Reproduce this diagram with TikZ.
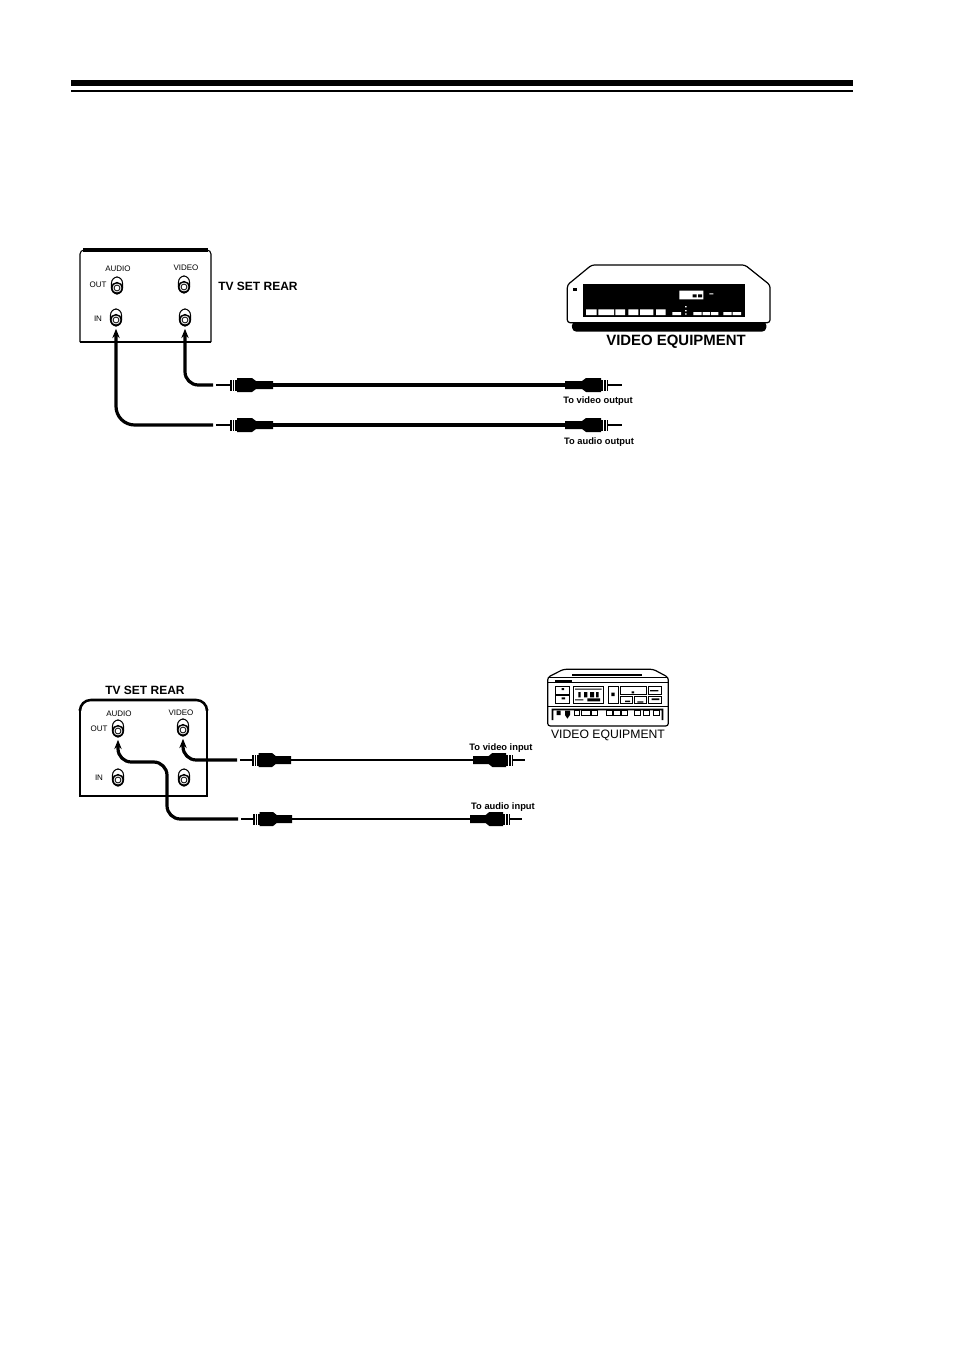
\documentclass[tikz,border=0pt]{standalone}
\usepackage{fontspec}
\setmainfont{Liberation Sans}
\usetikzlibrary{arrows.meta}
\tikzset{
  plug/.pic={
    \fill (0,-4) -- (17,-4) -- (21,-7) -- (36,-7) -- (36,7) -- (21,7) -- (17,4) -- (0,4) -- cycle;
    \fill (36,-5.5) rectangle (43,5.5);
    \draw[white, line width=.3pt] (38.5,-5.5) -- (38.5,5.5) (41,-5.5) -- (41,5.5);
    \draw[line width=1.5pt] (43,0) -- (57,0);
    \coordinate (-end) at (0,0);
    \coordinate (-tail) at (60,0);
  },
}
\newcommand{\jackat}[2]{
  \draw[line width=.8pt, fill=white, rounded corners=4.5pt] ($(#2)+(-5.5,-11)$) rectangle ($(#2)+(5.5,6)$);
  \node[circle, draw, fill=white, line width=1.1pt, minimum size=8pt, inner sep=0pt] (#1) at (#2) {};
  \draw[line width=.6pt] (#2) circle (2.2pt);
}
\usetikzlibrary{calc}
\begin{document}
\begin{tikzpicture}[x=.75pt, y=-.75pt]
        \tikzstyle{panelside} = [line width=.8pt]
        \tikzstyle{paneltop} = [line width=2.3pt]
        \tikzstyle{cable} = [line width=2.6pt]
        \tikzstyle{thincable} = [line width=1.6pt]
        \tikzstyle{wire} = [line width=2.4pt, rounded corners=10pt, -{Stealth[length=7pt,width=5.5pt]}, shorten >=2pt]
        \tikzstyle{tiny} = [font=\fontsize{6}{7}\selectfont, inner sep=0pt]
        \tikzstyle{small} = [font=\bfseries\fontsize{7}{8}\selectfont, inner sep=0pt]
        \tikzstyle{title} = [font=\bfseries\fontsize{9}{10}\selectfont, inner sep=0pt]
        \useasboundingbox (0,0) rectangle (954,1349);

        % rule
        \fill (71,80) rectangle (853,85.5);
        \fill (71,89.5) rectangle (853,91.5);

        % upper panel
        \draw[panelside, rounded corners=3pt] (80,342) -- (80,250) -- (211,250) -- (211,342);
        \draw[panelside] (80,342) -- (211,342);
        \draw[paneltop] (83,250) -- (208,250);
        \node[tiny] (audioa) at (118,269) {AUDIO};
        \node[tiny] (videoa) at (186,268) {VIDEO};
        \node[tiny] (outa) at (98,285) {OUT};
        \node[tiny] (ina) at (98,319) {IN};
        \node[title, anchor=west] (reara) at (218,286) {TV SET REAR};
        \jackat{audiooutA}{117,288}
        \jackat{videooutA}{184,287}
        \jackat{audioinA}{116,320}
        \jackat{videoinA}{185,320}

        % upper plugs
        \pic[xscale=-1] (plugva) at (273,385) {plug};
        \pic[xscale=-1] (plugaa) at (273,425) {plug};
        \pic (plugvb) at (565,385) {plug};
        \pic (plugab) at (565,425) {plug};
        \path[cable]
                (plugva-end) edge (plugvb-end)
                (plugaa-end) edge (plugab-end);
        \draw[wire] (plugva-tail) -| (videoinA.south);
        \draw[wire, rounded corners=14pt] (plugaa-tail) -| (audioinA.south);
        \node[small] (tovo) at (598,401) {To video output};
        \node[small] (toao) at (599,442) {To audio output};

        % upper equipment
        \begin{scope}[shift={(540,250)}, scale=1/3]
        \fill[rounded corners=3pt] (95,215) -- (680,215) -- (678,245) -- (97,245) -- cycle;
        \draw[line width=.9pt, fill=white, rounded corners=2pt] (155,45) -- (615,45) -- (690,105) -- (690,218) -- (82,218) -- (82,105) -- cycle;
        \fill (130,103) rectangle (615,200);
        \fill[white] (418,122) rectangle (490,148)
                (508,130) rectangle (520,133)
                (138,178) rectangle (170,195)
                (175,178) rectangle (222,195)
                (226,178) rectangle (255,195)
                (265,178) rectangle (295,195)
                (300,178) rectangle (340,195)
                (348,178) rectangle (377,195)
                (397,186) rectangle (423,195)
                (460,186) rectangle (485,195)
                (488,186) rectangle (510,195)
                (513,186) rectangle (535,195)
                (550,186) rectangle (575,195)
                (578,186) rectangle (603,195)
                (435,168) rectangle (440,172)
                (435,180) rectangle (440,184)
                (435,190) rectangle (440,194);
        \fill (458,133) rectangle (470,142) (474,133) rectangle (486,142);
        \fill (100,113) rectangle (112,123);
        \end{scope}
        \node[font=\bfseries\fontsize{11.2}{13}\selectfont, inner sep=0pt] (equipa) at (676,342) {VIDEO EQUIPMENT};

        % lower panel
        \draw[panelside] (80,708) -- (80,796) -- (207,796) -- (207,708);
        \draw[paneltop, line width=1.9pt, rounded corners=8pt] (80,709) -- (80,700) -- (207,700) -- (207,709);
        \node[title] (rearb) at (145,690) {TV SET REAR};
        \node[tiny] (audiob) at (119,714) {AUDIO};
        \node[tiny] (videob) at (181,713) {VIDEO};
        \node[tiny] (outb) at (99,729) {OUT};
        \node[tiny] (inb) at (99,778) {IN};
        \jackat{audiooutB}{118,731}
        \jackat{videooutB}{183,730}
        \jackat{audioinB}{118,780}
        \jackat{videoinB}{184,780}

        % lower plugs
        \pic[xscale=-.9] (plugvc) at (291,760) {plug};
        \pic[xscale=-.9] (plugac) at (292,819) {plug};
        \pic[xscale=.92] (plugvd) at (473,760) {plug};
        \pic[xscale=.92] (plugad) at (470,819) {plug};
        \path[thincable]
                (plugvc-end) edge (plugvd-end)
                (plugac-end) edge (plugad-end);
        \coordinate (bendb) at (167,762);
        \draw[wire] (plugvc-tail) -| (videooutB.south);
        \draw[wire] (plugac-tail) -| (bendb) -| (audiooutB.south);
        \node[small] (tovi) at (501,748) {To video input};
        \node[small] (toai) at (503,807) {To audio input};

        % lower equipment
        \begin{scope}[shift={(450,660)}, scale=1/3]
        \draw[line width=.9pt, rounded corners=2pt] (340,28) -- (610,28) -- (655,52) -- (655,198) -- (293,198) -- (293,52) -- cycle;
        \draw[line width=.9pt] (293,68) -- (655,68) (293,52) -- (655,52) (293,140) -- (655,140);
        \fill (365,42) rectangle (575,48);
        \fill (315,60) rectangle (365,65);
        \draw[line width=.6pt] (317,80) rectangle (358,102)
                (317,107) rectangle (358,130)
                (370,80) rectangle (460,130)
                (475,80) rectangle (505,130)
                (512,80) rectangle (590,102)
                (512,108) rectangle (548,130)
                (553,108) rectangle (590,130)
                (595,80) rectangle (635,102)
                (595,108) rectangle (635,130)
                (372,152) rectangle (387,165)
                (395,152) rectangle (420,165)
                (423,152) rectangle (443,165)
                (470,152) rectangle (488,165)
                (490,152) rectangle (510,165)
                (513,152) rectangle (533,165)
                (553,152) rectangle (572,165)
                (580,152) rectangle (597,165)
                (610,152) rectangle (628,165);
        \fill (305,146) rectangle (640,151) (305,146) rectangle (310,180) (635,146) rectangle (640,180);
        \fill (320,152) rectangle (332,165) (345,152) rectangle (360,165) (345,165) -- (360,165) -- (352,176) -- cycle;
        \fill (335,84) rectangle (342,90) (375,86) rectangle (455,89)
                (385,96) rectangle (392,112) (402,96) rectangle (412,112) (420,96) rectangle (432,112) (438,96) rectangle (446,112)
                (375,118) rectangle (400,121) (412,115) rectangle (450,124)
                (484,98) rectangle (494,108) (545,94) rectangle (552,100)
                (525,122) rectangle (540,126) (562,124) rectangle (580,128) (600,90) rectangle (625,94)
                (335,112) rectangle (345,118) (605,115) rectangle (628,120);
        \end{scope}
        \node[font=\fontsize{9.15}{11}\selectfont, inner sep=0pt] (equipb) at (608,735) {VIDEO EQUIPMENT};
\end{tikzpicture}
\end{document}
